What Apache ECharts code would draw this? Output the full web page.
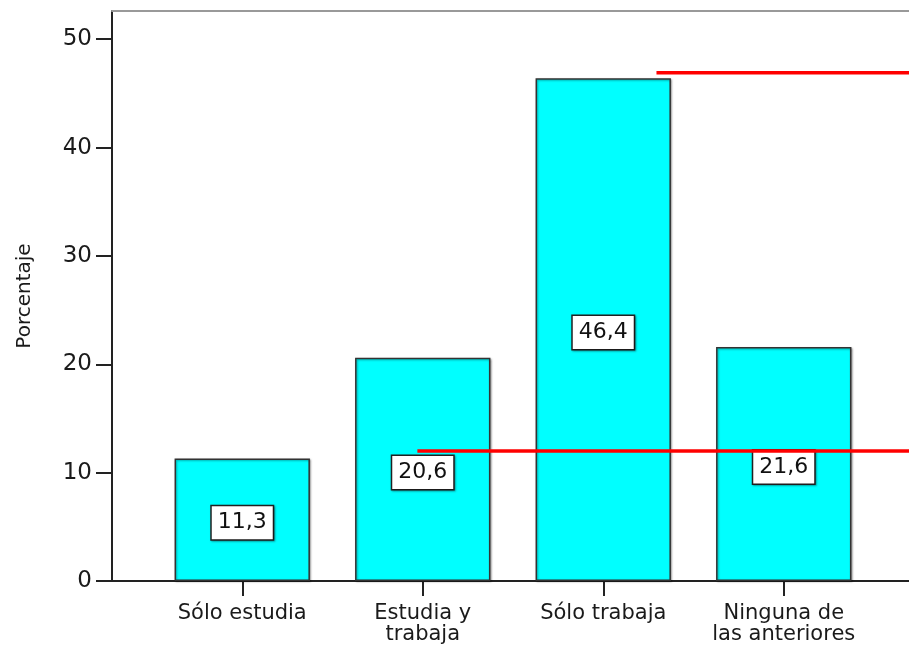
<!DOCTYPE html>
<html>
<head>
    <meta charset="utf-8">
    <title>Porcentaje</title>
    <style type="text/css">
        html, body { margin: 0; padding: 0; background: #fff; }
        #main { width: 909px; height: 648px; }
    </style>
    <script src="https://cdn.jsdelivr.net/npm/echarts@6/dist/echarts.min.js"></script>
</head>
<body>
    <div id="main"></div>
    <script type="text/javascript">
// datos
var categories = ['Sólo estudia', 'Estudia y\ntrabaja', 'Sólo trabaja', 'Ninguna de\nlas anteriores'];
var percentages = [11.3, 20.6, 46.4, 21.6];
var yTicks = [0, 10, 20, 30, 40, 50];
var yMax = 52.6;
// lineas rojas de referencia: nivel y posicion de inicio (en unidades de categoria)
var refLevels = [12.0, 46.9];
var refStarts = [0.985, 2.32];
var xMin = -0.72, xMax = 3.73;

var font = 'DejaVu Sans';
var myChart = echarts.init(document.getElementById('main'));

var refSeries = refLevels.map(function (lvl, i) {
    return {
        type: 'line',
        xAxisIndex: 0,
        yAxisIndex: 0,
        symbol: 'none',
        silent: true,
        z: 10,
        lineStyle: { color: '#ff0000', width: 3.5 },
        data: [[refStarts[i], lvl], [xMax, lvl]]
    };
});

var option = {
    animation: false,
    textStyle: { fontFamily: font },
    grid: [
        // marco con eje Y
        { left: 112, right: -7, top: 11, bottom: 67 },
        // barras
        { left: 152, right: 35, top: 11, bottom: 67 }
    ],
    xAxis: [
        {
            gridIndex: 0, type: 'value', min: xMin, max: xMax,
            axisLine: { show: true, onZero: false, lineStyle: { color: '#222', width: 2 } },
            axisTick: { show: false }, axisLabel: { show: false }, splitLine: { show: false }
        },
        {
            gridIndex: 0, type: 'value', position: 'top', min: xMin, max: xMax,
            axisLine: { show: true, onZero: false, lineStyle: { color: '#999', width: 2 } },
            axisTick: { show: false }, axisLabel: { show: false }, splitLine: { show: false }
        },
        {
            gridIndex: 1, type: 'category', data: categories,
            axisLine: { show: false },
            axisTick: { show: true, alignWithLabel: true, length: 15, lineStyle: { color: '#222', width: 2 } },
            axisLabel: { margin: 22, fontSize: 21, color: '#1a1a1a', fontFamily: font, lineHeight: 21, interval: 0 }
        }
    ],
    yAxis: [
        {
            gridIndex: 0, type: 'value', min: 0, max: yMax,
            name: 'Porcentaje', nameLocation: 'middle', nameGap: 77,
            nameTextStyle: { fontSize: 20, color: '#1a1a1a', fontFamily: font },
            axisLine: { show: true, onZero: false, lineStyle: { color: '#222', width: 2 } },
            axisTick: { show: true, length: 16, customValues: yTicks, lineStyle: { color: '#222', width: 2 } },
            axisLabel: { margin: 20, fontSize: 23, color: '#1a1a1a', fontFamily: font, customValues: yTicks },
            splitLine: { show: false }
        },
        {
            gridIndex: 1, type: 'value', min: 0, max: yMax, show: false
        }
    ],
    series: [
        {
            type: 'bar',
            xAxisIndex: 2,
            yAxisIndex: 1,
            data: percentages,
            barCategoryGap: '25%',
            z: 2,
            itemStyle: {
                color: '#00ffff',
                borderColor: '#333',
                borderWidth: 1.5,
                shadowColor: 'rgba(0,0,0,0.35)',
                shadowBlur: 2,
                shadowOffsetX: 1,
                shadowOffsetY: 1
            },
            label: {
                show: true,
                position: 'inside',
                offset: [0, 3],
                fontSize: 22,
                fontFamily: font,
                color: '#111',
                backgroundColor: '#fff',
                borderColor: '#222',
                borderWidth: 1.5,
                padding: [6, 6, 5, 6],
                shadowColor: 'rgba(0,0,0,0.35)',
                shadowBlur: 2,
                shadowOffsetX: 1,
                shadowOffsetY: 1,
                formatter: function (p) {
                    return p.value.toFixed(1).replace('.', ',');
                }
            }
        }
    ].concat(refSeries)
};

myChart.setOption(option);
    </script>
</body>
</html>
